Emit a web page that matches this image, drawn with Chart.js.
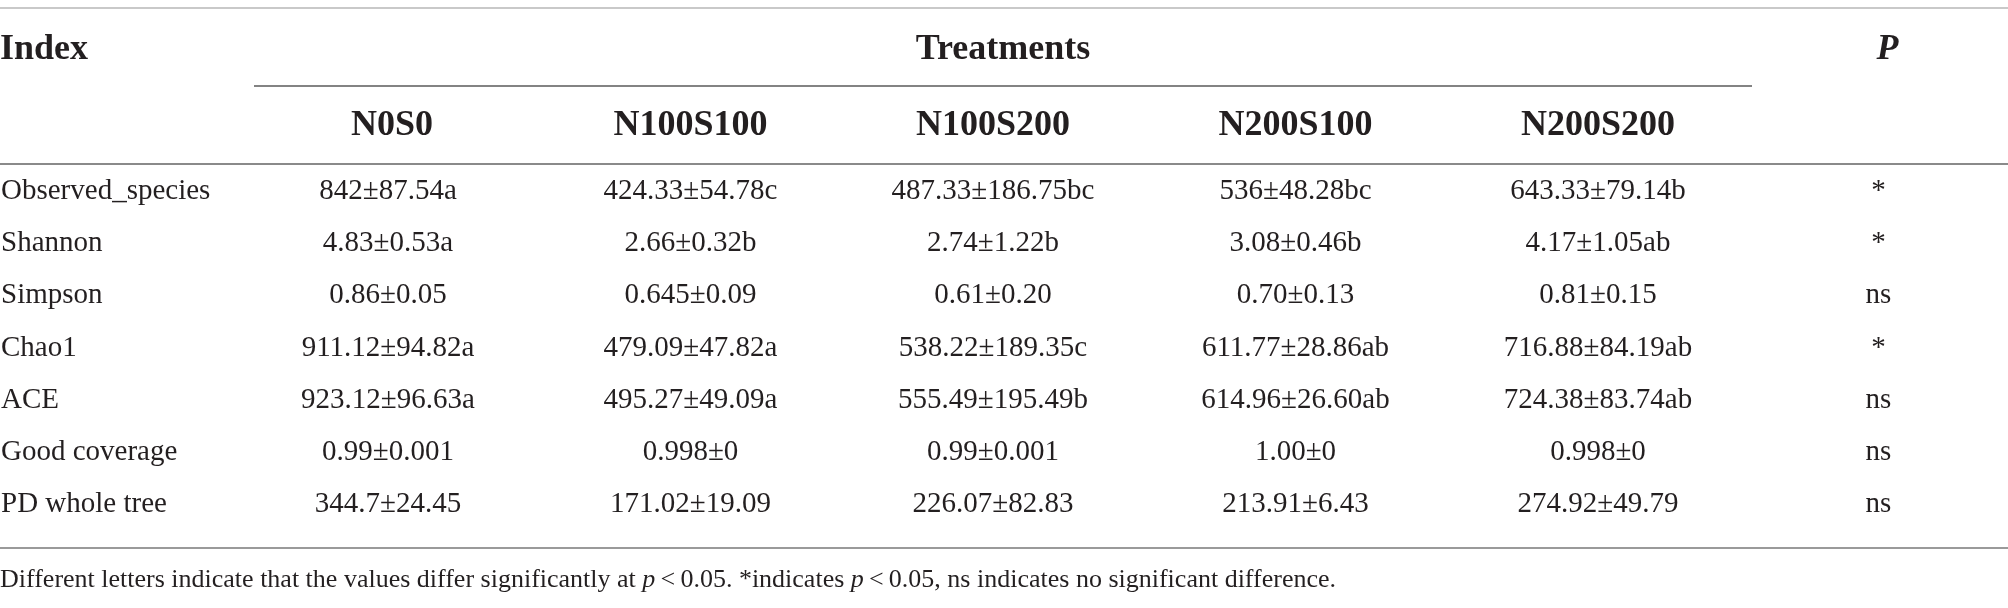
<!DOCTYPE html>
<html>
<head>
<meta charset="utf-8">
<script src="https://cdn.jsdelivr.net/npm/chart.js@4.4.1/dist/chart.umd.min.js"></script>
<style>
  html, body { margin: 0; padding: 0; background: #ffffff; }
  #wrap { width: 2008px; height: 608px; position: relative; }
</style>
</head>
<body>
<div id="wrap"><canvas id="tableChart"></canvas></div>
<script>
const indices = ["Observed_species", "Shannon", "Simpson", "Chao1", "ACE", "Good coverage", "PD whole tree"];
const treatments = ["N0S0", "N100S100", "N100S200", "N200S100", "N200S200"];

const n0s0     = ["842±87.54a", "4.83±0.53a", "0.86±0.05", "911.12±94.82a", "923.12±96.63a", "0.99±0.001", "344.7±24.45"];
const n100s100 = ["424.33±54.78c", "2.66±0.32b", "0.645±0.09", "479.09±47.82a", "495.27±49.09a", "0.998±0", "171.02±19.09"];
const n100s200 = ["487.33±186.75bc", "2.74±1.22b", "0.61±0.20", "538.22±189.35c", "555.49±195.49b", "0.99±0.001", "226.07±82.83"];
const n200s100 = ["536±48.28bc", "3.08±0.46b", "0.70±0.13", "611.77±28.86ab", "614.96±26.60ab", "1.00±0", "213.91±6.43"];
const n200s200 = ["643.33±79.14b", "4.17±1.05ab", "0.81±0.15", "716.88±84.19ab", "724.38±83.74ab", "0.998±0", "274.92±49.79"];
const pValues  = ["*", "*", "ns", "*", "ns", "ns", "ns"];

const columns = [n0s0, n100s100, n100s200, n200s100, n200s200, pValues];
const colLabels = [...treatments, "P"];

const footnote = [
    ["Different letters indicate that the values differ significantly at ", false],
    ["p", true],
    ["\u2009<\u20090.05. *indicates ", false],
    ["p", true],
    ["\u2009<\u20090.05, ns indicates no significant difference.", false]
];

const INK = "#231f20";
const SERIF = "'Liberation Serif', 'Times New Roman', serif";

/* ---------------- TABLE DRAWING PLUGIN ---------------- */
const tablePlugin = {
    id: "tableText",
    afterDatasetsDraw(chart) {
        const ctx = chart.ctx;
        const xs = chart.scales.x;
        const ys = chart.scales.y;
        const W = chart.width;
        const pCol = colLabels.length - 1;

        const hline = (x1, x2, y, color, w) => {
            ctx.beginPath();
            ctx.strokeStyle = color;
            ctx.lineWidth = w;
            ctx.moveTo(x1, y);
            ctx.lineTo(x2, y);
            ctx.stroke();
        };

        ctx.save();

        // rules
        const rowTop = ys.getPixelForValue(0);
        const rowBot = ys.getPixelForValue(indices.length - 1);
        hline(0, W, 8, "#c9c9c9", 2);
        hline(0, W, rowTop - 26, "#8a8a8a", 2);
        hline(0, W, rowBot + 45, "#9a9a9a", 2);
        const tLeft = xs.getPixelForValue(0) - 134;
        const tRight = xs.getPixelForValue(treatments.length - 1) + 154;
        hline(tLeft, tRight, 86, "#5a5a5a", 1.5);

        // top header row
        ctx.fillStyle = INK;
        ctx.textBaseline = "alphabetic";
        ctx.font = "bold 36px " + SERIF;
        ctx.textAlign = "left";
        ctx.fillText("Index", 0, 59);
        ctx.textAlign = "center";
        ctx.fillText("Treatments", (tLeft + tRight) / 2, 59);
        ctx.font = "italic bold 36px " + SERIF;
        ctx.fillText("P", xs.getPixelForValue(pCol) - 13, 59);

        // treatment names
        ctx.font = "bold 36px " + SERIF;
        treatments.forEach((t, i) => {
            ctx.fillText(t, xs.getPixelForValue(i) + (i === 0 ? 4 : 0), 135);
        });

        // row labels
        ctx.font = "29px " + SERIF;
        ctx.textAlign = "left";
        indices.forEach((name, i) => {
            ctx.fillText(name, 1, ys.getPixelForValue(i) + 9);
        });

        // cells, placed at the dataset points
        ctx.textAlign = "center";
        chart.data.datasets.forEach((ds, d) => {
            const meta = chart.getDatasetMeta(d);
            meta.data.forEach((el, i) => {
                const dx = d === pCol ? -22 : 0;
                ctx.fillText(ds.cells[i], el.x + dx, el.y + 9);
            });
        });

        // footnote
        let fx = 0;
        const fy = rowBot + 84;
        ctx.textAlign = "left";
        footnote.forEach(([txt, ital]) => {
            ctx.font = (ital ? "italic " : "") + "26px " + SERIF;
            ctx.fillText(txt, fx, fy);
            fx += ctx.measureText(txt).width;
        });

        ctx.restore();
    }
};

/* ---------------- CHART ---------------- */
const datasets = columns.map((col, c) => ({
    label: colLabels[c],
    cells: col,
    data: indices.map(name => ({ x: colLabels[c], y: name })),
    showLine: false,
    pointRadius: 0,
    pointHoverRadius: 0
}));

new Chart(document.getElementById("tableChart").getContext("2d"), {
    type: "line",
    data: { datasets },
    options: {
        responsive: true,
        maintainAspectRatio: false,
        animation: false,
        events: [],
        layout: { padding: { left: 388, right: 107.5, top: 190, bottom: 105 } },
        plugins: {
            legend: { display: false },
            tooltip: { enabled: false }
        },
        scales: {
            x: { type: "category", labels: colLabels, offset: false, display: false },
            y: { type: "category", labels: indices, offset: false, display: false }
        }
    },
    plugins: [tablePlugin]
});
</script>
</body>
</html>
